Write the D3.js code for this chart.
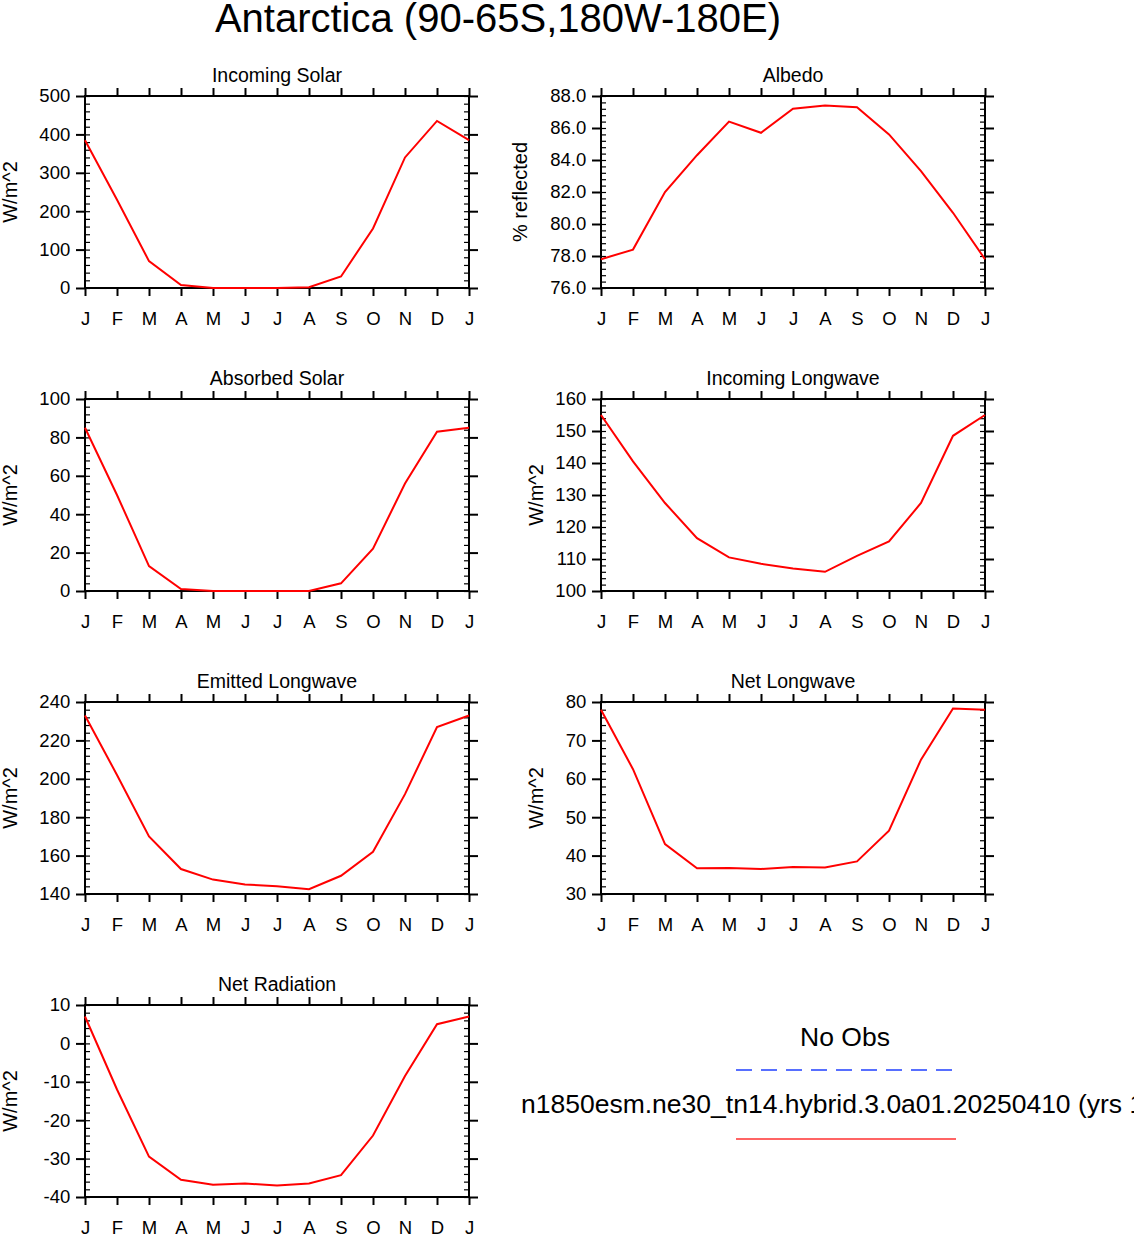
<!DOCTYPE html>
<html><head><meta charset="utf-8">
<script src="https://cdn.jsdelivr.net/npm/d3@7"></script>
<style>body{margin:0;background:#fff}text{font-family:"Liberation Sans",Arial,sans-serif}</style>
</head><body><svg width="1134" height="1236"></svg>
<script>
const months = ['J','F','M','A','M','J','J','A','S','O','N','D','J'];
const incomingSolar = [385,230,70,8,0,0,0,2,30,155,340,435,385];
const albedo = [77.8,78.4,82.0,84.3,86.4,85.7,87.2,87.4,87.3,85.6,83.3,80.7,77.8];
const absorbedSolar = [85,50,13,1,0,0,0,0,4,22,56,83,85];
const incomingLW = [155,140.5,127.5,116.5,110.5,108.5,107,106,111,115.5,127.5,148.5,155];
const emittedLW = [233,202,170,153,147.5,145,144,142.5,149.5,162,192,227,233];
const netLW = [78,62.5,43,36.7,36.8,36.5,37,36.9,38.5,46.5,65,78.3,78];
const netRad = [7,-12,-29.5,-35.5,-36.8,-36.5,-37,-36.5,-34.3,-24,-8.5,5,7];

const intFmt = d => String(Math.round(d));
const oneFmt = d => d.toFixed(1);
const panels = [
  {title:'Incoming Solar', data:incomingSolar, dom:[0,500], step:100, fmt:intFmt, ylab:'W/m^2', col:0, row:0},
  {title:'Albedo', data:albedo, dom:[76,88], step:2, fmt:oneFmt, ylab:'% reflected', col:1, row:0},
  {title:'Absorbed Solar', data:absorbedSolar, dom:[0,100], step:20, fmt:intFmt, ylab:'W/m^2', col:0, row:1},
  {title:'Incoming Longwave', data:incomingLW, dom:[100,160], step:10, fmt:intFmt, ylab:'W/m^2', col:1, row:1},
  {title:'Emitted Longwave', data:emittedLW, dom:[140,240], step:20, fmt:intFmt, ylab:'W/m^2', col:0, row:2},
  {title:'Net Longwave', data:netLW, dom:[30,80], step:10, fmt:intFmt, ylab:'W/m^2', col:1, row:2},
  {title:'Net Radiation', data:netRad, dom:[-40,10], step:10, fmt:intFmt, ylab:'W/m^2', col:0, row:3}
];

const svg = d3.select('svg');
const W = 384, H = 192;
const lefts = [85, 601], tops = [96, 399, 702, 1005];

svg.append('text').attr('x',498).attr('y',32).attr('text-anchor','middle')
  .attr('font-size',40).text('Antarctica (90-65S,180W-180E)');

panels.forEach(p => {
  const g = svg.append('g').attr('transform',`translate(${lefts[p.col]},${tops[p.row]})`);
  const x = d3.scaleLinear().domain([0,12]).range([0,W]);
  const y = d3.scaleLinear().domain(p.dom).range([H,0]);
  const majors = d3.range(p.dom[0], p.dom[1]+p.step/2, p.step);
  const minors = d3.range(p.dom[0], p.dom[1]+p.step/10, p.step/5);

  const ax = (axis, tr) => g.append('g').attr('transform',tr).call(axis)
      .call(s => s.select('.domain').remove())
      .call(s => s.selectAll('line').attr('stroke','#000').attr('stroke-width',2));
  ax(d3.axisBottom(x).ticks(12).tickSize(8).tickFormat(i => months[i]), `translate(0,${H})`)
    .selectAll('text').attr('font-size',18.5).attr('dy','1.4em');
  ax(d3.axisTop(x).ticks(12).tickSize(8).tickFormat(''), 'translate(0,0)');
  ax(d3.axisLeft(y).tickValues(majors).tickSize(9).tickFormat(p.fmt), 'translate(0,0)')
    .selectAll('text').attr('font-size',18.5).attr('dx','-0.15em');
  ax(d3.axisRight(y).tickValues(majors).tickSize(9).tickFormat(''), `translate(${W},0)`);
  ax(d3.axisRight(y).tickValues(minors).tickSize(5).tickFormat(''), 'translate(0,0)')
    .selectAll('line').attr('stroke-width',1.2);
  ax(d3.axisLeft(y).tickValues(minors).tickSize(5).tickFormat(''), `translate(${W},0)`)
    .selectAll('line').attr('stroke-width',1.2);
  g.append('rect').attr('width',W).attr('height',H).attr('fill','none')
    .attr('stroke','#000').attr('stroke-width',2);

  g.append('path').datum(p.data).attr('fill','none').attr('stroke','#f00').attr('stroke-width',2)
    .attr('d', d3.line().x((d,i)=>x(i)).y(d=>y(d)));

  g.append('text').attr('x',W/2).attr('y',-14).attr('text-anchor','middle')
    .attr('font-size',19.5).text(p.title);
  const lxx = p.col===0 ? 17 - lefts[0] : (p.ylab==='W/m^2' ? 543 - lefts[1] : 527 - lefts[1]);
  g.append('text').attr('transform',`translate(${lxx},${H/2}) rotate(-90)`)
    .attr('text-anchor','middle').attr('font-size',20).text(p.ylab);
});

svg.append('text').attr('x',845).attr('y',1046).attr('text-anchor','middle').attr('font-size',26.5).text('No Obs');
svg.append('line').attr('x1',736).attr('x2',956).attr('y1',1070).attr('y2',1070)
  .attr('stroke','#2040ff').attr('stroke-width',1.5).attr('stroke-dasharray','16,9');
svg.append('text').attr('x',521).attr('y',1113).attr('font-size',26.5)
  .text('n1850esm.ne30_tn14.hybrid.3.0a01.20250410 (yrs 1');
svg.append('line').attr('x1',736).attr('x2',956).attr('y1',1139).attr('y2',1139)
  .attr('stroke','#ff3030').attr('stroke-width',1.5);
</script></body></html>
